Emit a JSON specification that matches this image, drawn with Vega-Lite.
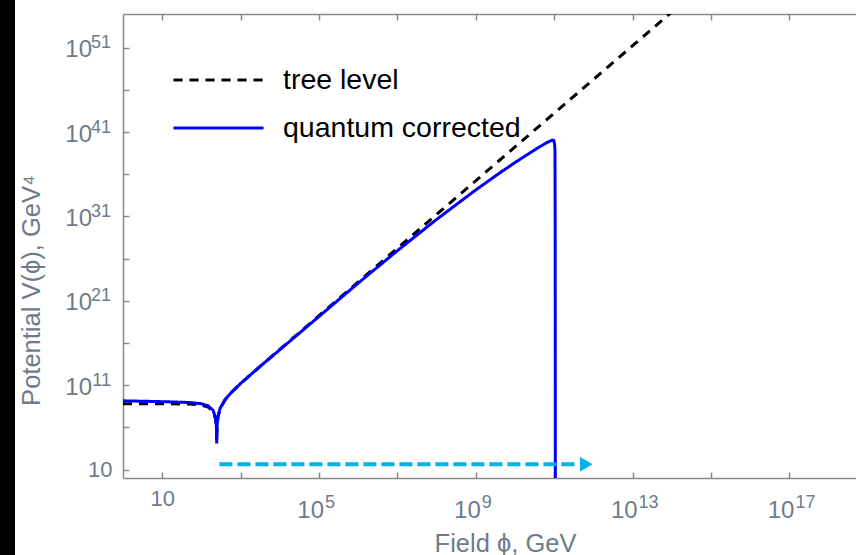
{
  "$schema": "https://vega.github.io/schema/vega-lite/v6.json",
  "width": 733,
  "height": 464,
  "autosize": {"type": "none"},
  "padding": {"left": 123, "top": 14, "right": 0, "bottom": 77},
  "background": "black",
  "config": {
    "view": {"fill": "white", "stroke": "white", "strokeWidth": 216},
    "axis": {
      "labelFont": "Liberation Sans",
      "titleFont": "Liberation Sans",
      "labelFontSize": 22,
      "titleFontSize": 25.5,
      "labelColor": "#6f7b8b",
      "titleColor": "#6f7b8b",
      "titleFontWeight": "normal",
      "domainColor": "#8a8a8a",
      "domainWidth": 1.5,
      "tickColor": "#8a8a8a",
      "tickWidth": 1.5,
      "tickSize": -6,
      "grid": false,
      "labelFlush": false,
      "labelOverlap": false
    },
    "legend": {
      "orient": "none",
      "legendX": 49,
      "legendY": 42,
      "symbolSize": 8100,
      "symbolStrokeWidth": 3,
      "labelFont": "Liberation Sans",
      "labelFontSize": 28.5,
      "labelColor": "black",
      "labelOffset": 18,
      "labelLimit": 600,
      "clipHeight": 48,
      "rowPadding": 0
    },
    "text": {"font": "Liberation Sans", "color": "#6f7b8b"}
  },
  "datasets": {
    "tree": [
      {"series": "tree level", "phi": 1, "V": 6.37e8},
      {"series": "tree level", "phi": 10, "V": 6.35e8},
      {"series": "tree level", "phi": 50, "V": 5.86e8},
      {"series": "tree level", "phi": 100, "V": 4.44e8},
      {"series": "tree level", "phi": 150, "V": 2.51e8},
      {"series": "tree level", "phi": 200, "V": 7.32e7},
      {"series": "tree level", "phi": 230, "V": 1.01e7},
      {"series": "tree level", "phi": 240, "V": 1.48e6},
      {"series": "tree level", "phi": 244, "V": 1.67e5},
      {"series": "tree level", "phi": 246, "V": 2.0e4},
      {"series": "tree level", "phi": 248, "V": 1.7e5},
      {"series": "tree level", "phi": 252, "V": 1.55e6},
      {"series": "tree level", "phi": 265, "V": 1.64e7},
      {"series": "tree level", "phi": 300, "V": 1.51e8},
      {"series": "tree level", "phi": 400, "V": 1.72e9},
      {"series": "tree level", "phi": 600, "V": 1.56e10},
      {"series": "tree level", "phi": 1000, "V": 1.54e11},
      {"series": "tree level", "phi": 3000, "V": 1.39e13},
      {"series": "tree level", "phi": 1e4, "V": 1.74e15},
      {"series": "tree level", "phi": 1e6, "V": 1.74e23},
      {"series": "tree level", "phi": 1e10, "V": 1.74e39},
      {"series": "tree level", "phi": 1e14, "V": 1.74e55}
    ],
    "quantum": [
      {"series": "quantum corrected", "phi": 1, "V": 1.41e9},
      {"series": "quantum corrected", "phi": 10, "V": 1.12e9},
      {"series": "quantum corrected", "phi": 50, "V": 8.9e8},
      {"series": "quantum corrected", "phi": 100, "V": 6.3e8},
      {"series": "quantum corrected", "phi": 150, "V": 3.5e8},
      {"series": "quantum corrected", "phi": 200, "V": 1.0e8},
      {"series": "quantum corrected", "phi": 230, "V": 1.26e7},
      {"series": "quantum corrected", "phi": 240, "V": 2.0e6},
      {"series": "quantum corrected", "phi": 244, "V": 2.0e5},
      {"series": "quantum corrected", "phi": 246, "V": 1.26e4},
      {"series": "quantum corrected", "phi": 248, "V": 2.0e5},
      {"series": "quantum corrected", "phi": 252, "V": 2.0e6},
      {"series": "quantum corrected", "phi": 265, "V": 2.0e7},
      {"series": "quantum corrected", "phi": 300, "V": 1.78e8},
      {"series": "quantum corrected", "phi": 400, "V": 2.0e9},
      {"series": "quantum corrected", "phi": 600, "V": 1.6e10},
      {"series": "quantum corrected", "phi": 1000, "V": 1.6e11},
      {"series": "quantum corrected", "phi": 3000, "V": 1.4e13},
      {"series": "quantum corrected", "phi": 1e4, "V": 1.6e15},
      {"series": "quantum corrected", "phi": 1e5, "V": 1.4e19},
      {"series": "quantum corrected", "phi": 1e6, "V": 1.26e23},
      {"series": "quantum corrected", "phi": 1e7, "V": 8.9e26},
      {"series": "quantum corrected", "phi": 1e8, "V": 4.47e30},
      {"series": "quantum corrected", "phi": 1e9, "V": 1.41e34},
      {"series": "quantum corrected", "phi": 3.98e9, "V": 1.35e36},
      {"series": "quantum corrected", "phi": 1e10, "V": 2.45e37},
      {"series": "quantum corrected", "phi": 3.16e10, "V": 7.76e38},
      {"series": "quantum corrected", "phi": 6.31e10, "V": 5.37e39},
      {"series": "quantum corrected", "phi": 7.94e10, "V": 8.91e39},
      {"series": "quantum corrected", "phi": 8.91e10, "V": 1.12e40},
      {"series": "quantum corrected", "phi": 9.77e10, "V": 1.0e40},
      {"series": "quantum corrected", "phi": 1.023e11, "V": 3.98e39},
      {"series": "quantum corrected", "phi": 1.047e11, "V": 6.3e38},
      {"series": "quantum corrected", "phi": 1.059e11, "V": 1.0e30},
      {"series": "quantum corrected", "phi": 1.072e11, "V": 1.0e-5}
    ],
    "arrow": [
      {"phi": 288, "phi2": 3.9e11, "V": 43}
    ],
    "head": [
      {"phi": 6.6e11, "V": 43}
    ],
    "xexp": [
      {"phi": 1e5, "base": "10", "e": "5"},
      {"phi": 1e9, "base": "10", "e": "9"},
      {"phi": 1e13, "base": "10", "e": "13"},
      {"phi": 1e17, "base": "10", "e": "17"}
    ],
    "yexp": [
      {"V": 1e11, "base": "10", "e": "11"},
      {"V": 1e21, "base": "10", "e": "21"},
      {"V": 1e31, "base": "10", "e": "31"},
      {"V": 1e41, "base": "10", "e": "41"},
      {"V": 1e51, "base": "10", "e": "51"}
    ]
  },
  "resolve": {"axis": {"x": "independent"}},
  "layer": [
    {
      "data": {"name": "tree"},
      "mark": {"type": "line", "clip": true, "strokeWidth": 3},
      "encoding": {
        "x": {
          "field": "phi", "type": "quantitative",
          "scale": {"type": "log", "domain": [1, 5e18], "nice": false},
          "axis": {
            "orient": "bottom",
            "values": [10, 1e3, 1e5, 1e7, 1e9, 1e11, 1e13, 1e15, 1e17],
            "labelExpr": "datum.value==10?'10':''",
            "labelPadding": 16,
            "title": "Field ϕ, GeV",
            "titleX": 382,
            "titleY": 65,
            "titleBaseline": "middle"
          }
        },
        "y": {
          "field": "V", "type": "quantitative",
          "scale": {"type": "log", "domain": [1, 1e55], "nice": false},
          "axis": {
            "orient": "left",
            "values": [10, 1e6, 1e11, 1e16, 1e21, 1e26, 1e31, 1e36, 1e41, 1e46, 1e51],
            "labelExpr": "datum.value==10?'10':''",
            "labelPadding": 17,
            "title": "Potential V(ϕ), GeV⁴",
            "titleX": -92,
            "titleY": 276,
            "titleBaseline": "middle"
          }
        },
        "color": {
          "field": "series", "type": "nominal",
          "scale": {"domain": ["tree level", "quantum corrected"], "range": ["#000000", "#0000ff"]},
          "legend": {"title": null}
        },
        "strokeDash": {
          "field": "series", "type": "nominal",
          "scale": {"domain": ["tree level", "quantum corrected"], "range": [[9, 7], [1, 0]]},
          "legend": {"title": null}
        }
      }
    },
    {
      "data": {"name": "quantum"},
      "mark": {"type": "line", "clip": true, "strokeWidth": 3},
      "encoding": {
        "x": {
          "field": "phi", "type": "quantitative",
          "scale": {"type": "log", "domain": [1, 5e18], "nice": false},
          "axis": {
            "orient": "top",
            "values": [10, 1e3, 1e5, 1e7, 1e9, 1e11, 1e13, 1e15, 1e17],
            "labels": false,
            "title": null
          }
        },
        "y": {
          "field": "V", "type": "quantitative",
          "scale": {"type": "log", "domain": [1, 1e55], "nice": false}
        },
        "color": {
          "field": "series", "type": "nominal",
          "scale": {"domain": ["tree level", "quantum corrected"], "range": ["#000000", "#0000ff"]},
          "legend": {"title": null}
        },
        "strokeDash": {
          "field": "series", "type": "nominal",
          "scale": {"domain": ["tree level", "quantum corrected"], "range": [[9, 7], [1, 0]]},
          "legend": {"title": null}
        }
      }
    },
    {
      "data": {"name": "arrow"},
      "mark": {"type": "rule", "color": "#00b0f0", "strokeWidth": 4, "strokeDash": [13, 5]},
      "encoding": {
        "x": {
          "field": "phi", "type": "quantitative",
          "scale": {"type": "log", "domain": [1, 5e18], "nice": false},
          "axis": null
        },
        "x2": {"field": "phi2"},
        "y": {
          "field": "V", "type": "quantitative",
          "scale": {"type": "log", "domain": [1, 1e55], "nice": false}
        }
      }
    },
    {
      "data": {"name": "head"},
      "mark": {"type": "point", "shape": "triangle-right", "filled": true, "opacity": 1, "color": "#00b0f0", "size": 210},
      "encoding": {
        "x": {
          "field": "phi", "type": "quantitative",
          "scale": {"type": "log", "domain": [1, 5e18], "nice": false},
          "axis": null
        },
        "y": {
          "field": "V", "type": "quantitative",
          "scale": {"type": "log", "domain": [1, 1e55], "nice": false}
        }
      }
    },
    {
      "data": {"name": "xexp"},
      "mark": {"type": "text", "fontSize": 24, "align": "right", "baseline": "alphabetic", "dx": 5, "dy": 40},
      "encoding": {
        "x": {"field": "phi", "type": "quantitative", "scale": {"type": "log", "domain": [1, 5e18], "nice": false}, "axis": null},
        "y": {"datum": 1, "type": "quantitative"},
        "text": {"field": "base"}
      }
    },
    {
      "data": {"name": "xexp"},
      "mark": {"type": "text", "fontSize": 18, "align": "left", "baseline": "alphabetic", "dx": 6, "dy": 30},
      "encoding": {
        "x": {"field": "phi", "type": "quantitative", "scale": {"type": "log", "domain": [1, 5e18], "nice": false}, "axis": null},
        "y": {"datum": 1, "type": "quantitative"},
        "text": {"field": "e"}
      }
    },
    {
      "data": {"name": "yexp"},
      "mark": {"type": "text", "fontSize": 24, "align": "right", "baseline": "alphabetic", "dx": -31, "dy": 9.5},
      "encoding": {
        "x": {"datum": 1, "type": "quantitative", "axis": null},
        "y": {"field": "V", "type": "quantitative", "scale": {"type": "log", "domain": [1, 1e55], "nice": false}},
        "text": {"field": "base"}
      }
    },
    {
      "data": {"name": "yexp"},
      "mark": {"type": "text", "fontSize": 18, "align": "right", "baseline": "alphabetic", "dx": -12, "dy": 0.5},
      "encoding": {
        "x": {"datum": 1, "type": "quantitative", "axis": null},
        "y": {"field": "V", "type": "quantitative", "scale": {"type": "log", "domain": [1, 1e55], "nice": false}},
        "text": {"field": "e"}
      }
    }
  ]
}
